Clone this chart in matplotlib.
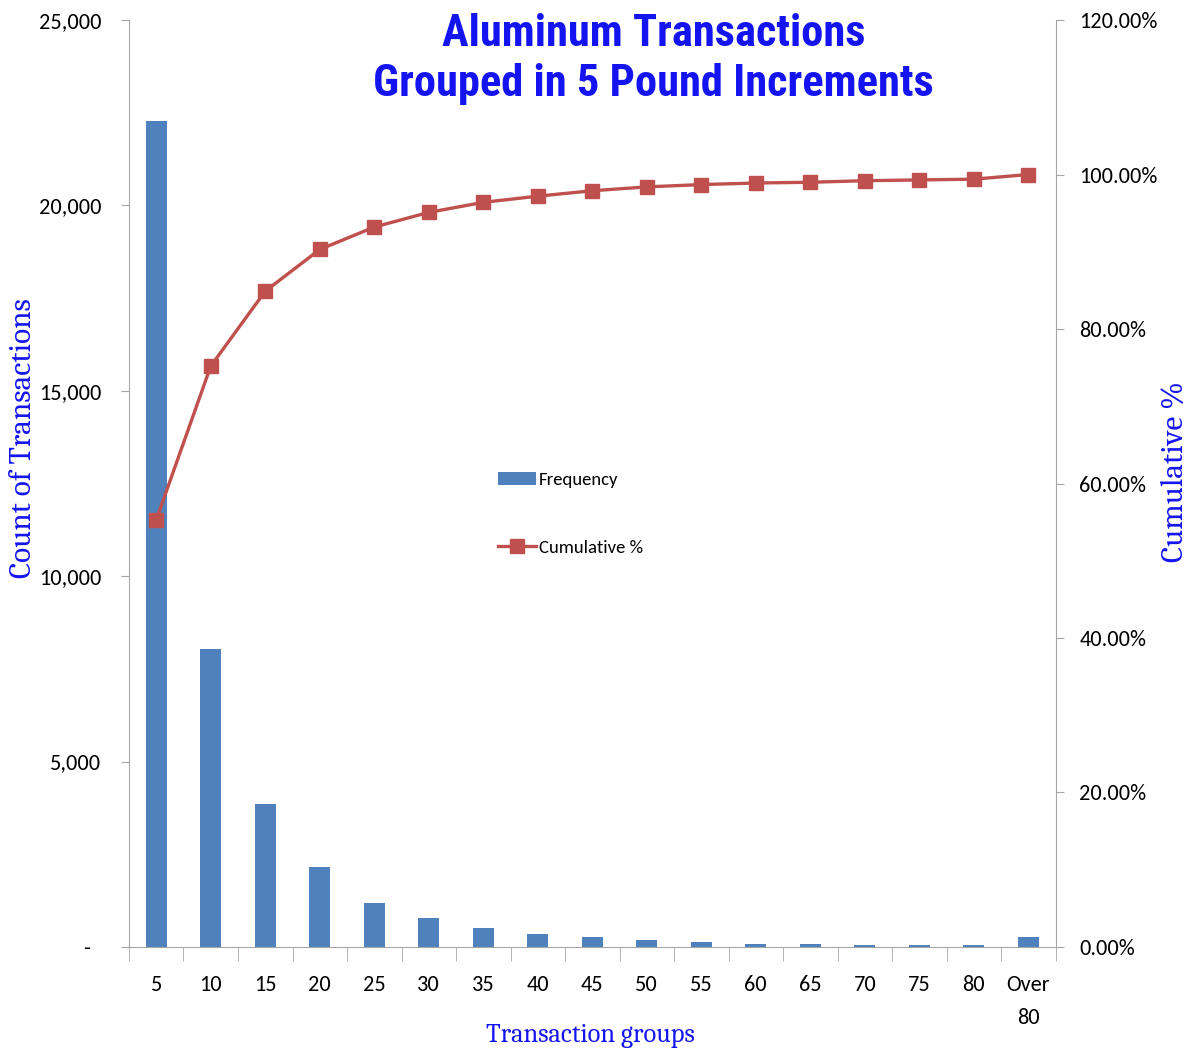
import matplotlib
matplotlib.use("Agg")
import matplotlib.pyplot as plt
import numpy as np
from matplotlib.ticker import FuncFormatter, FixedLocator

# data
groups = ["5", "10", "15", "20", "25", "30", "35", "40", "45", "50",
          "55", "60", "65", "70", "75", "80", "Over\n80"]
frequency = [22280, 8040, 3860, 2160, 1190, 780, 512, 350, 260, 190,
             135, 90, 90, 45, 40, 40, 260]
cumulative = [55.3, 75.2, 84.9, 90.3, 93.2, 95.1, 96.4, 97.2, 97.9, 98.4,
              98.7, 98.9, 99.0, 99.2, 99.3, 99.4, 100.0]

sans = ["Carlito", "Liberation Sans", "DejaVu Sans"]
serif = ["Caladea", "Liberation Serif", "DejaVu Serif"]
title_font = ["Roboto Condensed", "Archivo Narrow", "Liberation Sans", "DejaVu Sans"]
blue = "#1414f0"
grey = "#a6a6a6"

fig = plt.figure(figsize=(11.91, 10.55), dpi=100)
ax = fig.add_axes([0.1083, 0.1024, 0.778, 0.8786])
ax2 = ax.twinx()

x = np.arange(len(groups))
bars = ax.bar(x, frequency, width=0.39, color="#4f81bd", label="Frequency", zorder=2)
line, = ax2.plot(x, cumulative, color="#c0504d", lw=2.4, marker="s",
                 markersize=10.5, label="Cumulative %", zorder=3)

ax.set_xlim(-0.5, len(groups) - 0.5)
ax.set_ylim(0, 25000)
ax2.set_ylim(0, 120)
ax.set_yticks(np.arange(0, 25001, 5000))
ax2.set_yticks(np.arange(0, 121, 20))
ax.yaxis.set_major_formatter(FuncFormatter(lambda v, p: "-  " if v == 0 else f"{int(v):,}"))
ax2.yaxis.set_major_formatter(FuncFormatter(lambda v, p: f"{v:.2f}%"))

ax.set_xticks(x)
ax.set_xticklabels(groups, fontsize=16, family=sans, linespacing=1.8, va="top")
ax.tick_params(axis="x", length=0, pad=20)
ax.xaxis.set_minor_locator(FixedLocator(np.arange(-0.5, len(groups), 1.0)))
ax.tick_params(axis="x", which="minor", length=10, color=grey)

for t in ax.get_yticklabels() + ax2.get_yticklabels():
    t.set_family(sans)
    t.set_fontsize(16)
ax.tick_params(axis="y", length=6, color=grey, pad=14)
ax2.tick_params(axis="y", length=6, color=grey, pad=11)

for a in (ax, ax2):
    a.spines["top"].set_visible(False)
    for s in ("left", "right", "bottom"):
        a.spines[s].set_color(grey)
ax.spines["right"].set_visible(False)
ax2.spines["left"].set_visible(False)
ax2.spines["bottom"].set_visible(False)

fig.text(0.549, 0.988, "Aluminum Transactions\nGrouped in 5 Pound Increments",
         ha="center", va="top", fontsize=32, fontweight="bold", color=blue,
         family=title_font, linespacing=1.25)

fig.text(0.02, 0.585, "Count of Transactions", rotation=90, ha="center", va="center",
         fontsize=22.5, color=blue, family=serif)
fig.text(0.987, 0.553, "Cumulative %", rotation=90, ha="center", va="center",
         fontsize=22.5, color=blue, family=serif)
fig.text(0.496, 0.019, "Transaction groups", ha="center", va="center",
         fontsize=19, color=blue, family=serif)

leg = ax2.legend([bars, line], ["Frequency", "Cumulative %"],
                 loc="center left", bbox_to_anchor=(0.4105, 0.513),
                 bbox_transform=fig.transFigure, frameon=False, borderpad=0,
                 labelspacing=2.75, handlelength=2.0, handletextpad=0.15,
                 prop={"family": sans, "size": 13.5})

fig.savefig("out.png", dpi=100)
